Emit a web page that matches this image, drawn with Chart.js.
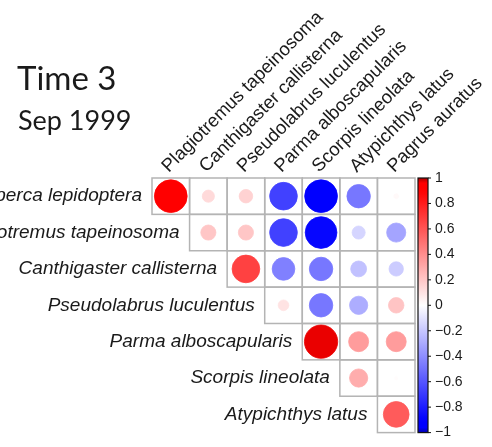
<!DOCTYPE html>
<html>
<head>
<meta charset="utf-8">
<script src="https://cdn.jsdelivr.net/npm/chart.js@4"></script>
<style>
  html, body { margin: 0; padding: 0; background: #fff; }
</style>
</head>
<body>
<canvas id="corrChart" width="492" height="447"></canvas>
<script>
// ---- data ----
const titleLines = ['Time 3', 'Sep 1999'];

const colLabels = [
  'Plagiotremus tapeinosoma', 'Canthigaster callisterna', 'Pseudolabrus luculentus',
  'Parma alboscapularis', 'Scorpis lineolata', 'Atypichthys latus', 'Pagrus auratus'
];
const rowLabels = [
  'Caesioperca lepidoptera', 'Plagiotremus tapeinosoma', 'Canthigaster callisterna',
  'Pseudolabrus luculentus', 'Parma alboscapularis', 'Scorpis lineolata', 'Atypichthys latus'
];

// upper triangle, row i starts at column i
const corrRows = [
  [0.94, 0.13, 0.16, -0.67, -0.94, -0.48, 0.02],
  [0.20, 0.20, -0.67, -0.88, -0.15, -0.32],
  [0.67, -0.45, -0.48, -0.22, -0.18],
  [0.10, -0.48, -0.29, 0.21],
  [0.97, 0.35, 0.35],
  [0.29, 0.01],
  [0.58]
];

const colorbarMin = -1;
const colorbarMax = 1;
const colorbarStep = 0.2;

// ---- helpers ----
// white -> pure red/blue at 0.9, only slightly darker right at the ends
function corrColor(v) {
  const t = Math.min(Math.abs(v), 1);
  let main = 255, other;
  if (t <= 0.9) {
    other = Math.round(255 * (1 - t / 0.9));
  } else {
    other = 0;
    main = t <= 0.96 ? 255 : Math.round(255 - (t - 0.96) / 0.04 * 85);
  }
  return v >= 0 ? `rgb(${main},${other},${other})` : `rgb(${other},${other},${main})`;
}

function cellSize(chart) {
  const x = chart.scales.x;
  return Math.abs(x.getPixelForValue(1) - x.getPixelForValue(0));
}

function circleRadius(ctx) {
  return 0.45 * Math.sqrt(Math.abs(ctx.raw.v)) * cellSize(ctx.chart);
}

const points = [];
corrRows.forEach((row, i) => {
  row.forEach((v, k) => points.push({ x: i + k, y: i, v }));
});

// ---- grid, labels, colorbar ----
const corrPlotPlugin = {
  id: 'corrPlot',
  beforeDatasetsDraw(chart) {
    const { ctx, scales: { x, y } } = chart;
    ctx.save();
    ctx.strokeStyle = '#b4b4b4';
    ctx.lineWidth = 1.5;
    corrRows.forEach((row, i) => {
      row.forEach((v, k) => {
        const j = i + k;
        const x0 = x.getPixelForValue(j - 0.5), x1 = x.getPixelForValue(j + 0.5);
        const y0 = y.getPixelForValue(i - 0.5), y1 = y.getPixelForValue(i + 0.5);
        ctx.strokeRect(x0, y0, x1 - x0, y1 - y0);
      });
    });
    ctx.restore();
  },
  afterDraw(chart) {
    const { ctx, chartArea, scales: { x, y, cb } } = chart;
    ctx.save();
    ctx.fillStyle = '#1a1a1a';

    // row labels, right aligned left of the first cell in each row
    ctx.font = 'italic 19px "Liberation Sans", Arial, sans-serif';
    ctx.textAlign = 'right';
    ctx.textBaseline = 'middle';
    rowLabels.forEach((lab, i) => {
      ctx.fillText(lab, x.getPixelForValue(i - 0.5) - 10, y.getPixelForValue(i));
    });

    // column labels, rotated 45 deg
    ctx.font = '18.5px "Liberation Sans", Arial, sans-serif';
    ctx.textAlign = 'left';
    ctx.textBaseline = 'alphabetic';
    colLabels.forEach((lab, j) => {
      ctx.save();
      ctx.translate(x.getPixelForValue(j) - 2, chartArea.top - 5);
      ctx.rotate(-Math.PI / 4);
      ctx.fillText(lab, 0, 0);
      ctx.restore();
    });

    // title
    ctx.font = '33px Lato, "Open Sans", sans-serif';
    ctx.fillText(titleLines[0], 17, 90);
    ctx.font = '27px Lato, "Open Sans", sans-serif';
    ctx.fillText(titleLines[1], 18, 130);

    // colorbar
    const bx = chartArea.right + 3, bw = 10;
    const top = cb.getPixelForValue(colorbarMax), bot = cb.getPixelForValue(colorbarMin);
    const grad = ctx.createLinearGradient(0, top, 0, bot);
    for (let s = 0; s <= 50; s++) {
      const v = colorbarMax - s * (colorbarMax - colorbarMin) / 50;
      grad.addColorStop(s / 50, corrColor(v));
    }
    ctx.fillStyle = grad;
    ctx.fillRect(bx, top, bw, bot - top);
    ctx.strokeStyle = '#111';
    ctx.lineWidth = 1.2;
    ctx.strokeRect(bx, top, bw, bot - top);
    ctx.lineWidth = 1;
    cb.ticks.forEach(t => {
      const py = cb.getPixelForValue(t.value);
      ctx.beginPath();
      ctx.moveTo(bx + bw, py);
      ctx.lineTo(bx + bw + 3, py);
      ctx.stroke();
    });
    ctx.restore();
  }
};

new Chart(document.getElementById('corrChart'), {
  type: 'scatter',
  data: {
    datasets: [{
      data: points,
      pointRadius: circleRadius,
      pointHoverRadius: circleRadius,
      pointBackgroundColor: ctx => corrColor(ctx.raw.v),
      pointBorderColor: ctx => corrColor(ctx.raw.v),
      pointBorderWidth: 0.8
    }]
  },
  options: {
    responsive: false,
    animation: false,
    events: [],
    layout: { padding: { left: 152, top: 0, right: 0, bottom: 6 } },
    plugins: { legend: { display: false }, tooltip: { enabled: false } },
    scales: {
      x: {
        type: 'linear', position: 'top', min: -0.5, max: 6.5,
        ticks: { display: false },
        grid: { display: false },
        border: { display: false },
        afterFit: s => { s.height = 178; }
      },
      y: {
        type: 'linear', reverse: true, min: -0.5, max: 6.5,
        display: false
      },
      cb: {
        type: 'linear', position: 'right', min: colorbarMin, max: colorbarMax,
        ticks: {
          stepSize: colorbarStep,
          padding: 6,
          color: '#1a1a1a',
          font: { family: '"Liberation Sans", Arial, sans-serif', size: 14 },
          callback: v => {
            const r = Math.round(v * 10) / 10;
            return r < 0 ? '\u2212' + Math.abs(r) : String(r);
          }
        },
        grid: { drawOnChartArea: false, color: 'rgba(0,0,0,0)', tickLength: 14 },
        border: { display: false },
        afterFit: s => { s.width = 77; }
      }
    }
  },
  plugins: [corrPlotPlugin]
});
</script>
</body>
</html>
